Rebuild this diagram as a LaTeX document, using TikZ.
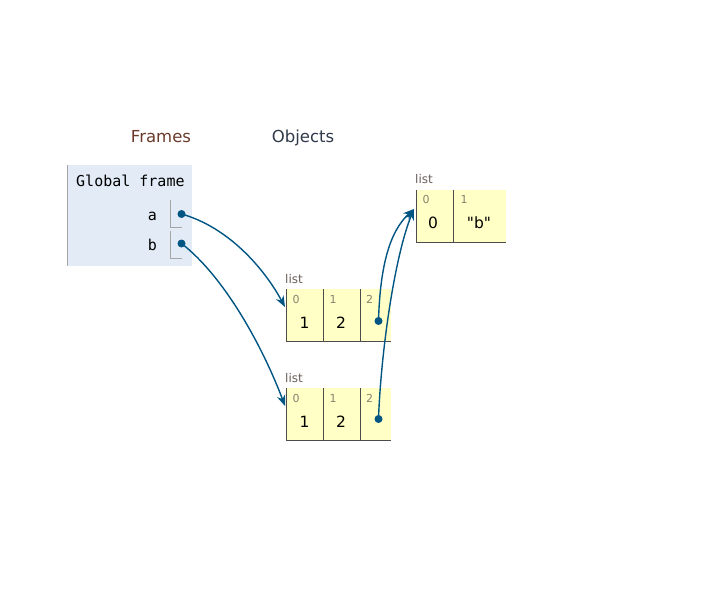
\documentclass[tikz,border=0pt]{standalone}
\usepackage{fontspec}
\setmainfont{DejaVu Sans}
\newfontfamily\monof{DejaVu Sans Mono}
\newfontfamily\plainf{DejaVu Sans}[Ligatures=ResetAll]
\usetikzlibrary{arrows.meta}
\definecolor{framebg}{HTML}{E2EBF6}
\definecolor{cellbg}{HTML}{FFFFC6}
\definecolor{ptrcol}{HTML}{005583}
\definecolor{hdrbrown}{HTML}{6B3A2A}
\definecolor{hdrslate}{HTML}{2F3A4A}
\definecolor{idxcol}{HTML}{8A8070}
\definecolor{lblcol}{HTML}{6A5E58}
\tikzset{
  hdr/.style={font=\fontsize{16.5}{19}\selectfont, inner sep=0pt, anchor=base},
  vname/.style={font=\monof\fontsize{15}{17}\selectfont, inner sep=0pt, anchor=base east},
  lbl/.style={font=\fontsize{12}{14}\selectfont, text=lblcol, inner sep=0pt, anchor=base west},
  idx/.style={font=\fontsize{11}{12}\selectfont, text=idxcol, inner sep=0pt, anchor=base west},
  val/.style={font=\plainf\fontsize{15.5}{18}\selectfont, inner sep=0pt, anchor=base},
  cell/.style={fill=cellbg, draw=none, inner sep=0pt, minimum height=52pt, anchor=north west},
  cellline/.style={draw=black!70, line width=0.9pt},
  brk/.style={draw=black!35, line width=0.9pt},
  ptrdot/.style={circle, fill=ptrcol, inner sep=0pt, minimum size=8pt},
  ptr/.style={draw=ptrcol, line width=1.4pt, -{Stealth[length=11pt,width=8.5pt]}}
}
\begin{document}
\begin{tikzpicture}[x=1pt,y=-1pt]
\useasboundingbox (0,0) rectangle (710,599);

% headers
\node[hdr, text=hdrbrown] (hframes) at (161,143) {Frames};
\node[hdr, text=hdrslate] (hobjects) at (303,143) {Objects};

% global frame
\node[fill=framebg, draw=none, inner sep=0pt, minimum width=125pt, minimum height=101pt, anchor=north west] (gframe) at (67,165) {};
\draw[draw=black!35, line width=0.9pt] (gframe.north west) -- (gframe.south west);
\node[font=\monof\fontsize{15}{17}\selectfont, inner sep=0pt, anchor=base west] (gtitle) at (76,187) {Global frame};
\node[vname] (va) at (157,221) {a};
\node[vname] (vb) at (157,250) {b};
\coordinate (ba1) at (170.5,200);
\coordinate (ba2) at (170.5,227);
\coordinate (ba3) at (182,227);
\draw[brk] (ba1) -- (ba2) -- (ba3);
\coordinate (bb1) at (170.5,231);
\coordinate (bb2) at (170.5,258);
\coordinate (bb3) at (182,258);
\draw[brk] (bb1) -- (bb2) -- (bb3);
\node[ptrdot] (fa) at (181.5,214) {};
\node[ptrdot] (fb) at (181.5,243.5) {};

% list 1
\node[lbl] (l1lab) at (285,283) {list};
\node[cell, minimum width=37pt] (l1c0) at (286,289) {};
\node[cell, minimum width=37pt] (l1c1) at (323,289) {};
\node[cell, minimum width=31pt] (l1c2) at (360,289) {};
\draw[cellline] (l1c0.north west) -- (l1c0.south west) -- (l1c2.south east);
\draw[cellline] (l1c1.north west) -- (l1c1.south west);
\draw[cellline] (l1c2.north west) -- (l1c2.south west);
\node[idx] (l1i0) at (292.5,303) {0};
\node[idx] (l1i1) at (329.5,303) {1};
\node[idx] (l1i2) at (366,303) {2};
\node[val] (l1v0) at (304.5,328) {1};
\node[val] (l1v1) at (341,328) {2};
\node[ptrdot] (l1d) at (378.5,321) {};

% list 2
\node[lbl] (l2lab) at (285,382) {list};
\node[cell, minimum width=37pt] (l2c0) at (286,388) {};
\node[cell, minimum width=37pt] (l2c1) at (323,388) {};
\node[cell, minimum width=31pt] (l2c2) at (360,388) {};
\draw[cellline] (l2c0.north west) -- (l2c0.south west) -- (l2c2.south east);
\draw[cellline] (l2c1.north west) -- (l2c1.south west);
\draw[cellline] (l2c2.north west) -- (l2c2.south west);
\node[idx] (l2i0) at (292.5,402) {0};
\node[idx] (l2i1) at (329.5,402) {1};
\node[idx] (l2i2) at (366,402) {2};
\node[val] (l2v0) at (304.5,427) {1};
\node[val] (l2v1) at (341,427) {2};
\node[ptrdot] (l2d) at (378.5,419) {};

% list 3
\node[lbl] (l3lab) at (415,184) {list};
\node[cell, minimum width=37pt] (l3c0) at (416,190) {};
\node[cell, minimum width=53pt] (l3c1) at (453,190) {};
\draw[cellline] (l3c0.north west) -- (l3c0.south west) -- (l3c1.south east);
\draw[cellline] (l3c1.north west) -- (l3c1.south west);
\node[idx] (l3i0) at (422.5,204) {0};
\node[idx] (l3i1) at (460.5,204) {1};
\node[val] (l3v0) at (433,229) {0};
\node[val] (l3v1) at (479,229) {\symbol{34}b\symbol{34}};

% pointers
\coordinate (t1) at (285,307);
\coordinate (t2) at (285,406);
\coordinate (t3) at (414,209);
\draw[ptr] (fa.center) .. controls (228,227) and (264,268) .. (t1);
\draw[ptr] (fb.center) .. controls (226,278) and (264,350) .. (t2);
\draw[ptr] (l1d.center) .. controls (380,268) and (389,232) .. (t3);
\draw[ptr] (l2d.center) .. controls (381,350) and (395,255) .. (t3);
\end{tikzpicture}
\end{document}
